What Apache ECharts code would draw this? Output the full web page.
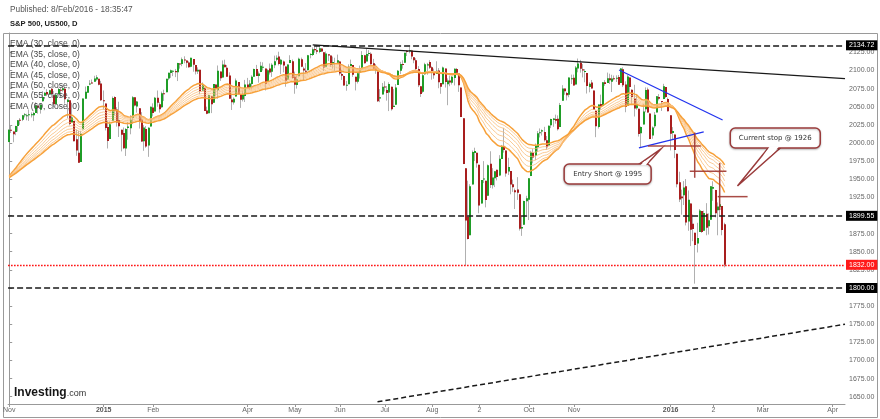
<!DOCTYPE html>
<html><head><meta charset="utf-8">
<script src="https://cdn.jsdelivr.net/npm/echarts@6/dist/echarts.min.js"></script>
<style>html,body{margin:0;padding:0;background:#fff}#c{width:880px;height:419px}</style>
</head><body><div id="c"></div>
<script>
// ---- DATA: daily bars [open, high, low, close] ----
const oct14 = [[2001.2,2018.7,2001.2,2018.1]];
const nov14 = [[2018.2,2024.5,2013.7,2017.8],[2015.8,2015.9,2001.0,2012.1],[2015.3,2023.8,2010.7,2023.6],[2023.3,2031.6,2015.9,2031.2],[2032.0,2034.3,2025.1,2031.9],[2032.0,2038.7,2030.2,2038.3],[2038.2,2041.3,2035.3,2039.7],[2037.8,2040.3,2031.3,2038.3],[2039.2,2046.2,2030.4,2039.8],[2039.7,2042.2,2035.2,2039.8],[2038.3,2043.1,2030.2,2041.3],[2041.5,2056.1,2041.5,2051.8],[2051.2,2052.1,2040.4,2048.7],[2045.9,2053.8,2040.5,2052.8],[2057.5,2071.5,2056.8,2063.5],[2065.1,2070.2,2065.1,2069.4],[2070.2,2074.2,2064.8,2067.0],[2067.0,2073.3,2066.4,2072.8],[2074.8,2075.8,2065.1,2067.6]];
const dec14 = [[2065.8,2065.8,2049.6,2053.4],[2053.8,2068.8,2053.8,2066.6],[2067.5,2076.3,2066.7,2074.3],[2073.6,2077.3,2062.3,2071.9],[2072.8,2079.5,2070.8,2075.4],[2074.8,2075.8,2054.3,2060.3],[2056.6,2060.6,2034.2,2059.8],[2058.9,2058.9,2024.3,2026.1],[2027.9,2055.5,2027.9,2035.3],[2030.4,2030.4,2002.3,2002.3],[2005.0,2018.7,1982.3,1989.6],[1986.7,2016.9,1972.6,1972.7],[1973.8,2016.8,1973.8,2012.9],[2018.9,2061.2,2018.9,2061.2],[2061.0,2077.9,2061.0,2070.7],[2069.3,2078.8,2069.3,2078.5],[2081.5,2086.7,2079.8,2082.2],[2083.3,2087.6,2081.9,2081.9],[2084.3,2092.7,2084.3,2088.8],[2087.6,2093.6,2085.8,2090.6],[2088.5,2088.5,2079.5,2080.4],[2082.1,2085.7,2057.9,2058.9]];
const jan15 = [[2058.9,2072.4,2046.0,2058.2],[2054.4,2054.4,2017.3,2020.6],[2022.2,2030.3,1992.4,2002.6],[2005.6,2029.6,2005.6,2025.9],[2030.6,2064.1,2030.6,2062.1],[2063.5,2064.4,2038.3,2044.8],[2046.1,2049.3,2022.6,2028.3],[2031.6,2056.9,2008.3,2023.0],[2018.4,2018.4,1988.4,2011.3],[2013.8,2021.4,1991.5,1992.7],[1992.3,2020.5,1982.1,2019.4],[2020.8,2028.9,2004.5,2022.6],[2020.2,2038.3,2012.0,2032.1],[2034.3,2064.6,2026.4,2063.2],[2063.0,2063.0,2050.5,2051.8],[2050.4,2058.0,2041.9,2057.1],[2047.9,2047.9,2019.9,2029.6],[2032.3,2042.5,2001.5,2002.2],[2002.5,2024.6,1989.2,2021.3],[2019.4,2023.3,1993.4,1995.0]];
const feb15 = [[1996.7,2021.7,1980.9,2020.9],[2022.7,2050.3,2022.7,2050.0],[2048.9,2054.7,2036.7,2041.5],[2043.5,2063.5,2043.5,2062.5],[2062.3,2072.4,2050.0,2055.5],[2053.5,2056.2,2041.9,2046.7],[2049.4,2070.9,2048.6,2068.6],[2068.6,2073.5,2058.0,2068.5],[2070.0,2088.5,2070.0,2088.5],[2088.8,2097.0,2086.7,2097.0],[2096.5,2101.3,2089.8,2100.3],[2099.2,2100.2,2092.2,2099.7],[2099.2,2102.1,2090.8,2097.5],[2097.6,2110.6,2085.4,2110.3],[2109.8,2110.1,2102.5,2109.7],[2109.1,2117.9,2105.9,2115.5],[2115.3,2119.6,2109.9,2113.9],[2113.9,2113.9,2103.8,2110.7],[2110.9,2112.7,2103.8,2104.5]];
const mar15 = [[2105.2,2117.5,2104.5,2117.4],[2115.8,2115.8,2098.3,2107.8],[2107.7,2107.7,2094.5,2098.5],[2098.5,2104.3,2095.2,2101.0],[2100.9,2100.9,2067.3,2071.3],[2072.3,2083.5,2072.2,2079.4],[2076.1,2076.1,2044.2,2044.2],[2044.7,2050.1,2039.7,2040.2],[2041.1,2066.4,2041.1,2066.0],[2064.6,2064.6,2041.2,2053.4],[2055.4,2081.4,2055.4,2081.2],[2080.6,2080.6,2065.1,2074.3],[2072.8,2106.9,2061.2,2099.5],[2098.7,2098.7,2085.6,2089.3],[2090.3,2113.9,2090.3,2108.1],[2108.0,2114.9,2104.4,2104.4],[2103.9,2107.6,2091.5,2091.5],[2093.1,2097.4,2061.1,2061.1],[2059.9,2067.2,2045.5,2056.2],[2055.8,2062.8,2053.0,2061.0],[2064.1,2089.0,2064.1,2086.2],[2084.1,2084.1,2067.0,2067.9]];
const apr15 = [[2067.6,2067.6,2048.4,2059.7],[2060.0,2072.2,2057.3,2067.0],[2064.9,2087.0,2056.5,2080.6],[2080.8,2089.8,2076.1,2076.3],[2076.9,2086.7,2073.3,2081.9],[2081.3,2093.3,2074.3,2091.2],[2091.5,2102.6,2091.5,2102.1],[2102.0,2107.7,2092.3,2092.4],[2092.3,2098.6,2083.2,2095.8],[2097.8,2111.9,2097.8,2106.6],[2105.0,2111.3,2100.0,2105.0],[2102.6,2102.6,2072.4,2081.2],[2084.1,2101.9,2084.1,2100.4],[2102.8,2109.6,2094.4,2097.3],[2098.3,2110.0,2091.1,2108.0],[2107.2,2120.5,2103.2,2112.9],[2114.8,2120.9,2112.8,2117.7],[2119.3,2125.9,2107.0,2108.9],[2108.4,2116.0,2094.9,2114.8],[2112.5,2113.7,2097.4,2106.9],[2105.5,2105.5,2077.6,2085.5]];
const may15 = [[2087.4,2108.4,2087.4,2108.3],[2110.2,2121.0,2110.2,2114.5],[2112.6,2115.2,2088.5,2089.5],[2091.3,2098.4,2067.9,2080.2],[2080.0,2092.9,2075.0,2088.0],[2092.1,2117.7,2092.1,2116.1],[2115.6,2117.7,2104.6,2105.3],[2102.9,2105.1,2085.6,2099.9],[2099.6,2110.2,2096.0,2098.5],[2100.4,2121.5,2100.4,2121.1],[2122.1,2123.9,2116.8,2122.7],[2121.3,2131.8,2120.0,2129.2],[2129.5,2133.0,2124.5,2127.8],[2127.8,2134.7,2122.6,2125.9],[2125.6,2133.0,2123.9,2130.8],[2130.4,2130.4,2125.9,2126.1],[2125.3,2125.3,2099.2,2104.2],[2105.1,2126.2,2105.1,2123.5],[2122.3,2122.3,2112.9,2120.8],[2120.7,2120.7,2104.9,2107.4]];
const jun15 = [[2108.6,2119.2,2102.5,2111.7],[2110.4,2117.6,2099.1,2109.6],[2110.6,2121.9,2109.6,2114.1],[2112.4,2112.9,2093.2,2095.8],[2095.1,2101.0,2087.0,2092.8],[2092.3,2093.0,2079.1,2079.3],[2079.1,2085.6,2072.1,2080.2],[2081.1,2108.5,2081.1,2105.2],[2106.2,2115.0,2106.2,2108.9],[2107.4,2107.4,2091.3,2094.1],[2091.3,2091.3,2072.5,2084.4],[2084.3,2097.4,2082.1,2096.3],[2097.4,2106.8,2088.9,2100.4],[2101.6,2126.7,2101.6,2121.2],[2121.1,2121.6,2109.5,2110.0],[2112.5,2129.9,2112.5,2122.9],[2123.2,2128.0,2119.9,2124.2],[2123.2,2125.1,2108.2,2108.6],[2110.0,2116.0,2101.8,2102.3],[2102.6,2108.9,2095.4,2101.5],[2098.6,2098.6,2056.6,2057.6],[2061.2,2074.3,2056.3,2063.1]];
const jul15 = [[2067.0,2082.8,2067.0,2077.4],[2078.0,2085.1,2071.0,2076.8],[2073.0,2078.6,2058.4,2068.8],[2069.5,2083.7,2044.0,2081.3],[2077.7,2077.7,2044.7,2046.7],[2049.7,2074.3,2049.7,2051.3],[2052.7,2081.3,2052.7,2076.6],[2080.0,2100.7,2080.0,2099.6],[2099.7,2112.0,2095.0,2109.0],[2109.0,2114.1,2102.5,2107.4],[2110.6,2124.4,2110.6,2124.3],[2126.8,2128.1,2119.9,2126.6],[2126.9,2132.8,2123.7,2128.3],[2127.6,2128.5,2115.4,2119.2],[2118.2,2118.5,2110.0,2114.2],[2114.2,2116.9,2098.6,2102.2],[2102.2,2106.0,2077.1,2079.7],[2078.2,2078.2,2063.5,2067.6],[2070.8,2095.6,2069.1,2093.3],[2094.7,2110.6,2094.1,2108.6],[2106.8,2110.5,2094.1,2108.6],[2111.6,2114.2,2102.1,2103.8]];
const aug15 = [[2104.5,2105.7,2087.3,2098.0],[2097.7,2102.5,2088.6,2093.3],[2095.3,2112.7,2095.3,2099.8],[2100.1,2103.3,2075.5,2083.6],[2082.6,2082.6,2067.9,2077.6],[2081.0,2105.4,2081.0,2104.2],[2102.7,2102.7,2076.5,2084.1],[2081.1,2089.1,2052.1,2086.1],[2086.2,2092.9,2078.3,2083.4],[2083.2,2092.5,2080.6,2091.5],[2089.7,2102.9,2079.3,2102.4],[2102.0,2103.5,2094.1,2096.9],[2095.7,2096.2,2070.5,2079.6],[2076.6,2076.6,2035.7,2035.7],[2034.1,2034.1,1970.9,1970.9],[1965.2,1965.2,1831.0,1893.2],[1898.1,1948.0,1867.0,1867.6],[1872.8,1943.1,1872.8,1940.5],[1942.8,1989.6,1942.8,1987.7],[1986.1,1993.5,1975.2,1988.9],[1986.7,1986.7,1966.0,1972.2]];
const sep15 = [[1970.1,1970.1,1903.1,1913.9],[1916.5,1948.9,1916.5,1948.9],[1950.8,1975.0,1944.7,1951.1],[1947.8,1947.8,1911.2,1921.2],[1927.3,1970.4,1927.3,1969.4],[1971.5,1988.6,1937.9,1942.0],[1941.6,1965.3,1937.2,1952.3],[1951.5,1961.1,1939.2,1961.1],[1963.1,1963.1,1948.3,1953.0],[1955.1,1983.2,1954.3,1978.1],[1978.0,1997.3,1977.9,1995.3],[1995.3,2020.9,1986.7,1990.2],[1989.7,1989.7,1953.5,1958.0],[1960.8,1979.6,1955.8,1967.0],[1961.4,1961.4,1929.2,1942.7],[1943.2,1949.5,1932.6,1938.8],[1934.8,1937.2,1908.9,1932.2],[1935.9,1952.9,1921.5,1931.3],[1929.2,1929.2,1879.2,1881.8],[1881.9,1899.5,1871.9,1884.1],[1887.1,1920.5,1887.1,1920.0]];
const oct15 = [[1919.7,1927.2,1900.7,1923.8],[1921.8,1951.4,1893.7,1951.4],[1954.3,1989.2,1954.3,1987.1],[1986.6,1991.6,1972.0,1979.9],[1982.3,1999.3,1976.4,1995.8],[1994.0,2016.5,1987.5,2013.4],[2013.7,2020.1,2007.6,2014.9],[2015.7,2018.7,2010.3,2017.5],[2015.0,2022.3,2001.8,2003.7],[2003.7,2009.6,1990.7,1994.2],[1996.5,2024.2,1996.5,2023.9],[2024.4,2033.5,2020.5,2033.1],[2031.7,2034.5,2022.3,2033.7],[2033.1,2039.1,2026.6,2030.8],[2033.5,2038.0,2017.2,2018.9],[2021.9,2055.2,2021.9,2052.5],[2058.2,2079.7,2058.2,2075.2],[2075.1,2075.1,2066.5,2071.2],[2068.8,2070.4,2058.8,2065.9],[2066.5,2090.4,2063.1,2090.4],[2088.4,2094.3,2081.3,2089.4],[2090.0,2094.3,2079.1,2079.4]];
const nov15 = [[2080.8,2106.2,2080.8,2104.1],[2102.6,2116.5,2097.5,2109.8],[2110.6,2114.6,2097.0,2102.3],[2101.7,2108.8,2090.4,2099.9],[2098.6,2101.9,2083.7,2099.2],[2096.6,2096.6,2068.2,2078.6],[2077.2,2083.7,2069.9,2081.7],[2083.4,2086.9,2074.9,2075.0],[2072.3,2072.3,2045.7,2046.0],[2044.6,2044.6,2008.0,2023.0],[2022.1,2053.2,2019.9,2053.2],[2053.7,2066.7,2045.9,2050.4],[2051.0,2084.0,2051.0,2083.6],[2083.7,2086.7,2078.8,2081.2],[2082.8,2097.1,2082.8,2089.2],[2089.4,2095.6,2081.4,2086.6],[2084.4,2094.1,2070.3,2089.1],[2089.3,2093.0,2086.3,2088.9],[2088.8,2093.3,2084.1,2090.1],[2091.0,2093.8,2080.4,2080.4]];
const dec15 = [[2082.9,2103.4,2082.9,2102.6],[2101.7,2104.3,2077.1,2079.5],[2080.7,2085.0,2042.4,2049.6],[2051.2,2093.8,2051.2,2091.7],[2090.4,2090.4,2066.8,2077.1],[2073.4,2073.9,2052.3,2063.6],[2061.2,2080.3,2036.5,2047.6],[2047.9,2067.7,2045.9,2052.2],[2047.3,2047.3,2008.9,2012.4],[2013.4,2022.9,1993.3,2021.9],[2025.6,2053.9,2025.6,2043.4],[2046.5,2076.7,2042.4,2073.1],[2073.8,2076.4,2041.7,2041.9],[2040.8,2040.8,2005.3,2005.6],[2010.3,2022.9,2005.9,2021.2],[2023.2,2042.7,2020.5,2039.0],[2042.2,2064.7,2042.2,2064.3],[2063.5,2067.4,2058.7,2061.0],[2057.8,2057.8,2044.2,2056.5],[2060.5,2081.6,2060.5,2078.4],[2077.3,2077.3,2062.0,2063.4],[2060.6,2062.5,2043.6,2043.9]];
const jan16 = [[2038.2,2038.2,1989.7,2012.7],[2013.8,2021.9,2004.2,2016.7],[2011.7,2011.7,1979.1,1990.3],[1985.3,1985.3,1938.8,1943.1],[1946.0,1960.4,1918.5,1922.0],[1926.1,1935.7,1901.1,1923.7],[1927.8,1947.4,1914.4,1938.7],[1940.3,1950.3,1886.3,1890.3],[1891.7,1934.5,1878.9,1921.8],[1916.7,1916.7,1857.8,1880.3],[1888.7,1901.4,1864.6,1881.3],[1876.2,1876.2,1806.0,1859.3],[1861.5,1889.9,1849.0,1869.0],[1877.4,1908.9,1877.4,1906.9],[1906.3,1906.3,1876.0,1877.1],[1878.8,1906.7,1878.8,1903.6],[1902.5,1917.0,1872.7,1883.0],[1885.2,1903.0,1873.7,1893.4],[1894.0,1940.2,1894.0,1940.2]];
const feb16 = [[1936.9,1947.2,1920.3,1939.4],[1935.3,1935.3,1897.3,1903.0],[1907.1,1918.0,1872.7,1912.5],[1911.7,1927.4,1900.5,1915.5],[1913.1,1913.1,1872.7,1880.1],[1888.0,1890.0,1828.5,1832.0]];

const emaPeriods = [30, 35, 40, 45, 50, 55, 60];
const emaSeed = 1950;

const xLabelIdx  = [0, 42, 64, 106, 127, 147, 167, 188, 209, 231, 251, 294, 313, 335, 366];
const xLabelText = ['Nov','2015','Feb','Apr','May','Jun','Jul','Aug','2','Oct','Nov','2016','2','Mar','Apr'];
const yTicks = [1650,1675,1700,1725,1750,1775,1800,1825,1850,1875,1900,1925,1950,1975,2000,2025,2050,2075,2100,2125];

const levels = [2134.72, 1899.55, 1800];
const lastPrice = 1832;

// drawn lines, in [bar index, price]
const resistanceLine = [[134.9, 2135.2], [371.5, 2088.8]];
const supportLine    = [[163.7, 1643], [371.5, 1750]];
const blueLines = [[[271.1, 2100.7], [317.1, 2031.7]], [[279.9, 1993.1], [308.7, 2015.2]]];
const stopLines = [
  [[283.9, 1996], [307.4, 1996]],
  [[304.7, 2014.5], [304.7, 1952]],
  [[302.5, 1961], [318.8, 1961]],
  [[315.8, 1972.5], [315.8, 1907.6]],
  [[314.9, 1926], [328.2, 1926]]
];
// callouts: [box centre index, box centre price, pointer index, pointer price]
const calloutAnchors = [[266.0, 1957.2, 289.7, 1991.7], [340.5, 2006.9, 323.7, 1940.7]];
const calloutText = ['Entry Short @ 1995', 'Current stop @ 1926'];

// ---- build ----
const N = 372;
const bars = [].concat(oct14, nov14, dec14, jan15, feb15, mar15, apr15, may15, jun15, jul15, aug15, sep15, oct15, nov15, dec15, jan16, feb16);
const closes = bars.map(b => b[3]);
const candleData = bars.map((b, i) => [i, b[0], b[1], b[2], b[3]]);
const cats = Array.from({length: N}, (_, i) => String(i));
const labelMap = new Map(xLabelIdx.map((v, k) => [v, xLabelText[k]]));

function ema(period) {
  const k = 2 / (period + 1);
  let e = emaSeed;
  return closes.map((c, i) => { e = e + k * (c - e); return [i, +e.toFixed(2)]; });
}

// styles
const UP = '#1f9d27', DOWN = '#a81e1e', WICK = '#b0b0b0';
const calloutSize = [[87, 20], [90, 20]];
const calloutTail = [[[31.5, -10], [39.5, -10]], [[-7, 10], [5, 10]]];
const CALL_COL = '#9a3b3b';

function segSeries(segs, color, width, dash, z) {
  return {
    type: 'custom', xAxisIndex: 1, yAxisIndex: 0, z: z || 5, silent: true,
    data: segs.map(s => [s[0][0], s[0][1], s[1][0], s[1][1]]),
    encode: {x: [0, 2], y: [1, 3]},
    renderItem: (p, api) => {
      const a = api.coord([api.value(0), api.value(1)]);
      const b = api.coord([api.value(2), api.value(3)]);
      return {type: 'line', shape: {x1: a[0], y1: a[1], x2: b[0], y2: b[1]},
        style: {stroke: color, lineWidth: width, lineDash: dash || null}};
    }
  };
}

const emaSeries = emaPeriods.map((p, k) => {
  const outer = (k === 0 || k === emaPeriods.length - 1);
  return {
    type: 'line', name: 'EMA (' + p + ', close, 0)', xAxisIndex: 1, yAxisIndex: 0,
    data: ema(p), showSymbol: false, symbol: 'none', silent: true, z: 4,
    lineStyle: {color: outer ? '#f7a13a' : '#f9bd78', width: outer ? 1.5 : 0.8},
    itemStyle: {color: '#f7a13a'}
  };
});

const lvlLabel = (txt, bg) => ({
  show: true, position: 'end', distance: 1, formatter: txt, color: '#fff', backgroundColor: bg,
  fontSize: 7, fontFamily: 'Liberation Sans', padding: [2, 3, 1, 3]
});
emaSeries[emaSeries.length - 1].markLine = {
  silent: true, symbol: ['none', 'none'], animation: false,
  data: levels.map(v => ({yAxis: v, lineStyle: {color: '#1a1a1a', width: 1.5, type: [6, 3]}, label: lvlLabel(v.toFixed(2), '#000')}))
    .concat([{yAxis: lastPrice, lineStyle: {color: '#ff0000', width: 1.4, type: [1.5, 1.5], opacity: 1}, label: lvlLabel(lastPrice.toFixed(2), '#ff1a1a')}])
};

const chart = echarts.init(document.getElementById('c'), null, {renderer: 'canvas'});
chart.setOption({
  animation: false,
  backgroundColor: '#fff',
  textStyle: {fontFamily: 'Liberation Sans'},
  grid: {left: 4, right: 35, top: 33, bottom: 15, containLabel: false},
  legend: {
    orient: 'vertical', left: 5, top: 39, padding: 0, itemWidth: 0, itemHeight: 10, itemGap: 0.9,
    icon: 'none', selectedMode: false, inactiveColor: '#444',
    textStyle: {fontSize: 8.5, color: '#444', fontFamily: 'Liberation Sans'},
    data: emaSeries.map(s => s.name)
  },
  xAxis: [
    {type: 'category', data: cats, boundaryGap: true,
     axisLine: {show: true, lineStyle: {color: '#999'}},
     axisTick: {show: true, alignWithLabel: true, interval: i => labelMap.has(i), length: 3, lineStyle: {color: '#999'}},
     axisLabel: {interval: i => labelMap.has(i), margin: 3, fontSize: 7, color: '#666',
       formatter: (v, i) => { const t = labelMap.get(i); if (!t) return ''; return /^\d{4}$/.test(t) ? '{b|' + t + '}' : t; },
       rich: {b: {fontWeight: 'bold', fontSize: 7, color: '#555'}}},
     splitLine: {show: false}},
    {type: 'value', min: -0.5, max: N - 0.5, show: false}
  ],
  yAxis: {
    type: 'value', position: 'right', min: 1640, max: 2151.7, scale: true,
    axisLine: {show: true, lineStyle: {color: '#999'}},
    axisTick: {show: true, customValues: yTicks, length: 3, lineStyle: {color: '#999'}},
    axisLabel: {customValues: yTicks, formatter: v => v.toFixed(2), fontSize: 7, color: '#666', margin: 4},
    splitLine: {show: false}
  },
  graphic: [
    {type: 'rect', z: -1, shape: {x: 3.5, y: 33.5, width: 874, height: 384}, style: {fill: 'none', stroke: '#9a9a9a', lineWidth: 1}},
    {type: 'text', left: 10, top: 6, style: {text: 'Published: 8/Feb/2016 - 18:35:47', font: '8.3px "Liberation Sans"', fill: '#555'}},
    {type: 'text', left: 10, top: 20, style: {text: 'S&P 500, US500, D', font: 'bold 7.6px "Liberation Sans"', fill: '#222'}},
    {type: 'text', left: 14, top: 387, z: 20, style: {
      text: '{a|Investing}{b|.com}',
      rich: {a: {font: 'bold 12px "Liberation Sans"', fill: '#151515', verticalAlign: 'bottom'},
             b: {font: '9px "Liberation Sans"', fill: '#333', verticalAlign: 'bottom', padding: [0, 0, 1, 0]}}}}
  ],
  series: [
    {
      type: 'custom', name: 'US500', xAxisIndex: 1, yAxisIndex: 0, z: 3, silent: true,
      data: candleData, encode: {x: 0, y: [1, 2, 3, 4]},
      renderItem: (p, api) => {
        const i = api.value(0), o = api.value(1), h = api.value(2), l = api.value(3), c = api.value(4);
        const po = api.coord([i, o]), pc = api.coord([i, c]), ph = api.coord([i, h]), pl = api.coord([i, l]);
        const x = Math.round(po[0]);
        const top = Math.min(po[1], pc[1]), bot = Math.max(po[1], pc[1]);
        return {type: 'group', children: [
          {type: 'line', shape: {x1: x - 0.5, y1: ph[1], x2: x - 0.5, y2: pl[1]}, style: {stroke: WICK, lineWidth: 1}},
          {type: 'rect', shape: {x: x - 1, y: top, width: 2, height: Math.max(bot - top, 1)}, style: {fill: c >= o ? UP : DOWN}}
        ]};
      }
    },
    ...emaSeries,
    segSeries([resistanceLine], '#1a1a1a', 1.3, null, 6),
    segSeries([supportLine], '#1a1a1a', 1.5, [5, 3], 6),
    segSeries(blueLines, '#2233ee', 1.3, null, 6),
    segSeries(stopLines, 'rgba(160,55,50,0.9)', 1.5, null, 7),
    {
      type: 'custom', xAxisIndex: 1, yAxisIndex: 0, z: 8, silent: true,
      data: calloutAnchors, encode: {x: [0, 2], y: [1, 3]},
      renderItem: (p, api) => {
        const k = p.dataIndex;
        const c = api.coord([api.value(0), api.value(1)]);
        const a = api.coord([api.value(2), api.value(3)]);
        const sz = calloutSize[k], tb = calloutTail[k];
        const b1 = [c[0] + tb[0][0], c[1] + tb[0][1]], b2 = [c[0] + tb[1][0], c[1] + tb[1][1]];
        const s = Math.sign(a[1] - b1[1]);
        const ux = Math.sign(b2[0] - b1[0]);
        const cov = [
          [b1[0] + ux * 1.3, b1[1] - s * 1.2],
          [b2[0] - ux * 1.3, b2[1] - s * 1.2],
          [b2[0] + (a[0] - b2[0]) * 0.2 - ux * 1.1, b2[1] + (a[1] - b2[1]) * 0.2],
          [b1[0] + (a[0] - b1[0]) * 0.2 + ux * 1.1, b1[1] + (a[1] - b1[1]) * 0.2]
        ];
        return {type: 'group', children: [
          {type: 'polygon', shape: {points: [b1, a, b2]}, style: {fill: '#fff', stroke: CALL_COL, lineWidth: 1.5}},
          {type: 'rect', shape: {x: c[0] - sz[0] / 2, y: c[1] - sz[1] / 2, width: sz[0], height: sz[1], r: 5},
           style: {fill: '#fff', stroke: CALL_COL, lineWidth: 1.5, shadowBlur: 2, shadowColor: 'rgba(0,0,0,0.25)', shadowOffsetY: 1}},
          {type: 'polygon', shape: {points: cov}, style: {fill: '#fff'}},
          {type: 'text', style: {text: calloutText[k], x: c[0], y: c[1], align: 'center', verticalAlign: 'middle',
            font: '7px "DejaVu Sans"', fill: '#333'}}
        ]};
      }
    }
  ]
});
</script>
</body></html>
